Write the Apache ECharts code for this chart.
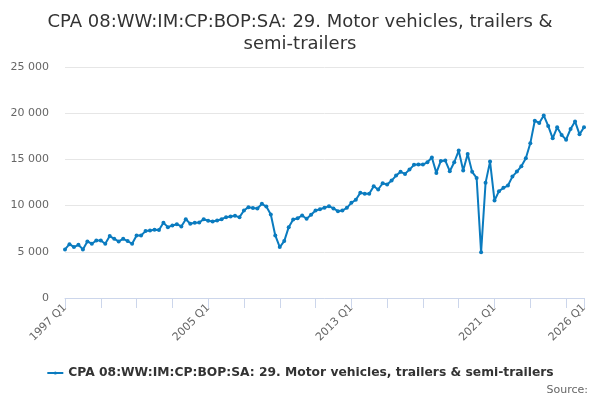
<!DOCTYPE html>
<html>
<head>
<meta charset="utf-8">
<script src="https://cdn.jsdelivr.net/npm/echarts@6/dist/echarts.min.js"></script>
<style>
  html, body { margin: 0; padding: 0; background: #fff; }
  #chart { width: 600px; height: 400px; }
</style>
</head>
<body>
<div id="chart"></div>
<script>
var firstYear = 1997;
var lastYear = 2026;

var values1997to2002 = [5260, 5830, 5510, 5760, 5260, 6120, 5870, 6230, 6230, 5870, 6700, 6410,
  6120, 6410, 6160, 5870, 6770, 6770, 7240, 7300, 7380, 7350, 8140];
var values2002to2008 = [7670, 7850, 7990, 7740, 8530, 8030, 8140, 8170, 8530, 8360, 8280, 8390,
  8530, 8750, 8820, 8890, 8750, 9470, 9830, 9750, 9680, 10190, 9900];
var values2008to2013 = [9040, 6770, 5510, 6160, 7670, 8500, 8640, 8930, 8570, 9010, 9470, 9610,
  9760, 9940, 9690, 9400, 9470, 9760, 10300, 10630, 11380, 11270];
var values2014to2020 = [11270, 12100, 11740, 12420, 12280, 12710, 13250, 13650, 13430, 13900,
  14410, 14440, 14440, 14690, 15200, 13540, 14840, 14870, 13720, 14690, 15950, 13790, 15590,
  13650, 13000];
var values2020to2026 = [4940, 12460, 14760, 10550, 11560, 11920, 12170, 13140, 13680, 14260,
  15120, 16740, 19190, 18940, 19760, 18620, 17280, 18470, 17640, 17140, 18290, 19110, 17710,
  18470];

var seriesName = 'CPA 08:WW:IM:CP:BOP:SA: 29. Motor vehicles, trailers & semi-trailers';
var yTicks = [0, 5000, 10000, 15000, 20000, 25000];

var values = [].concat(values1997to2002, values2002to2008, values2008to2013,
  values2014to2020, values2020to2026);

var quarters = [];
for (var y = firstYear; y <= lastYear; y++) {
  for (var q = 1; q <= 4; q++) {
    if (y === lastYear && q > 1) break;
    quarters.push(y + ' Q' + q);
  }
}
var lastIdx = quarters.length - 1;

function fmt(v) {
  return String(v).replace(/\B(?=(\d{3})+(?!\d))/g, ' ');
}

var chart = echarts.init(document.getElementById('chart'), null, { renderer: 'canvas' });

var option = {
  animation: false,
  textStyle: { fontFamily: 'DejaVu Sans' },
  title: {
    text: 'CPA 08:WW:IM:CP:BOP:SA: 29. Motor vehicles, trailers &\nsemi-trailers',
    left: 'center',
    top: 6,
    textStyle: {
      fontSize: 18,
      fontWeight: 'normal',
      color: '#333333',
      lineHeight: 22,
      fontFamily: 'DejaVu Sans'
    }
  },
  legend: {
    bottom: 16,
    left: 'center',
    itemWidth: 16,
    itemHeight: 4,
    itemGap: 10,
    textStyle: { fontSize: 12.3, fontWeight: 'bold', color: '#333333', fontFamily: 'DejaVu Sans' },
    data: [seriesName]
  },
  graphic: [{
    type: 'text',
    right: 12,
    bottom: 4,
    style: { text: 'Source:', fontSize: 11, fill: '#666666', fontFamily: 'DejaVu Sans' }
  }],
  grid: {
    left: 65,
    right: 16,
    top: 67,
    bottom: 102
  },
  xAxis: {
    type: 'category',
    boundaryGap: false,
    data: quarters,
    axisLine: { lineStyle: { color: '#ccd6eb', width: 1 } },
    axisTick: {
      length: 10,
      lineStyle: { color: '#ccd6eb' },
      interval: function (i) { return i % 8 === 0 || i === lastIdx; }
    },
    axisLabel: {
      rotate: 45,
      color: '#666666',
      fontSize: 11,
      margin: 8,
      interval: function (i) { return i % 32 === 0 || i === lastIdx; }
    },
    splitLine: { show: false }
  },
  yAxis: {
    type: 'value',
    min: yTicks[0],
    max: yTicks[yTicks.length - 1],
    interval: yTicks[1] - yTicks[0],
    axisLine: { show: false },
    axisTick: { show: false },
    axisLabel: {
      color: '#666666',
      fontSize: 11,
      margin: 16,
      formatter: fmt
    },
    splitLine: { lineStyle: { color: '#e6e6e6' } }
  },
  series: [{
    name: seriesName,
    type: 'line',
    data: values,
    symbol: 'circle',
    symbolSize: 4,
    showSymbol: true,
    showAllSymbol: true,
    lineStyle: { color: '#0a7bbf', width: 2 },
    itemStyle: { color: '#0a7bbf' }
  }]
};

chart.setOption(option);
</script>
</body>
</html>
